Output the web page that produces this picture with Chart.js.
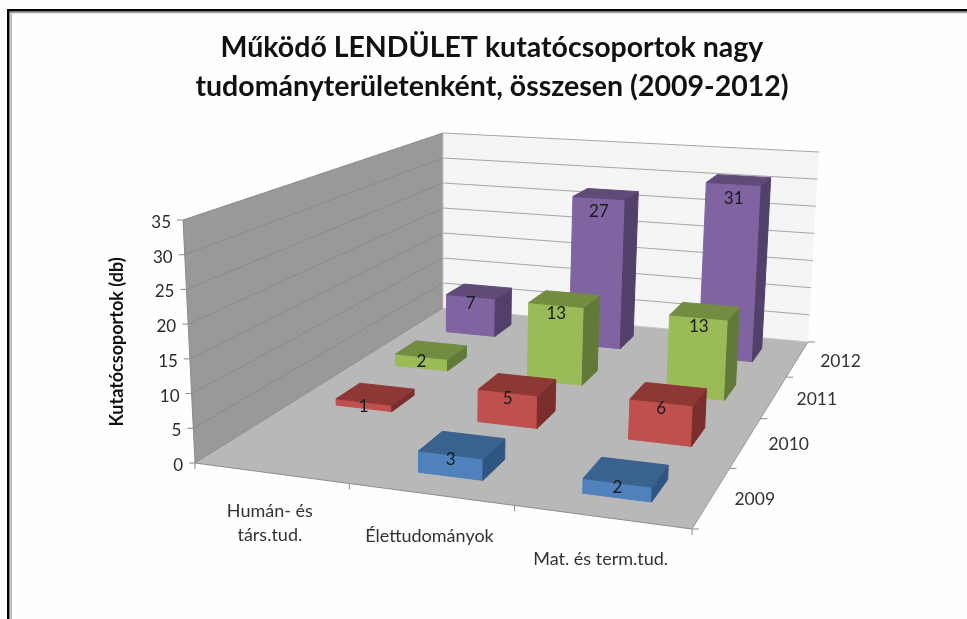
<!DOCTYPE html>
<html><head><meta charset="utf-8">
<style>html,body{margin:0;padding:0;background:#fff}#w{width:967px;height:619px}</style>
<script src="https://cdn.jsdelivr.net/npm/chart.js@4"></script>
</head><body><div id="w"><canvas id="c" width="967" height="619"></canvas></div>
<script>
// ---- data ----
const categories = [['Humán- és','társ.tud.'],['Élettudományok'],['Mat. és term.tud.']];
const years = ['2009','2010','2011','2012'];
const values2009 = [null,3,2];
const values2010 = [1,5,6];
const values2011 = [2,13,13];
const values2012 = [7,27,31];
const yTicksMax = 35, yTickStep = 5;
const yTitle = 'Kutatócsoportok (db)';
const titleLines = ['Működő LENDÜLET kutatócsoportok nagy','tudományterületenként, összesen (2009-2012)'];

// ---- 3D box on screen (front-left, front-right, back-right, back-left) ----
const FLOOR = [[195,463],[692,529],[808,342],[443,308]];
const CEIL  = [[183,220],[703,256],[819,152],[443,133]];
const BAR_W = 0.40, BAR_D = 0.38;
const FONT = 'Lato, "Open Sans", sans-serif';

function homography(q){
  const [[x0,y0],[x1,y1],[x2,y2],[x3,y3]] = q;
  const dx1=x1-x2,dx2=x3-x2,dy1=y1-y2,dy2=y3-y2,sx=x0-x1+x2-x3,sy=y0-y1+y2-y3;
  const den=dx1*dy2-dx2*dy1, g=(sx*dy2-dx2*sy)/den, h=(dx1*sy-sx*dy1)/den;
  const a=x1-x0+g*x1,b=x3-x0+h*x3,d=y1-y0+g*y1,e=y3-y0+h*y3;
  return (u,v)=>{const w=g*u+h*v+1;return [(a*u+b*v+x0)/w,(d*u+e*v+y0)/w];};
}
const floorH = homography(FLOOR), ceilH = homography(CEIL);
// u, v: 0..1 along category / depth; f: 0..1 of height
function P(u,v,f){const a=floorH(u,v),b=ceilH(u,v);return [a[0]+(b[0]-a[0])*f,a[1]+(b[1]-a[1])*f];}
function poly(ctx,pts,fill,stroke){
  ctx.beginPath();pts.forEach((p,i)=>i?ctx.lineTo(p[0],p[1]):ctx.moveTo(p[0],p[1]));ctx.closePath();
  if(fill){ctx.fillStyle=fill;ctx.fill();}
  if(stroke){ctx.strokeStyle=stroke;ctx.lineWidth=1;ctx.stroke();}
}
function seg(ctx,a,b,color,w){ctx.beginPath();ctx.moveTo(a[0],a[1]);ctx.lineTo(b[0],b[1]);ctx.strokeStyle=color;ctx.lineWidth=w||1;ctx.stroke();}
const nX=(s,val)=>(s.getPixelForValue(val)-s.left)/s.width;
const nY=(s,val)=>(s.bottom-s.getPixelForValue(val))/s.height;

class Bar3D extends Chart.BarController{
  draw(){
    const chart=this.chart,ctx=chart.ctx,ds=this.getDataset(),meta=this.getMeta();
    const sx=chart.scales.x,sy=chart.scales.y,sz=chart.scales.z;
    const hw=BAR_W*(nX(sx,1)-nX(sx,0))/2, hd=BAR_D*(nX(sz,1)-nX(sz,0))/2;
    const v=nX(sz,ds.depthIndex);
    meta.data.forEach((el,i)=>{
      const val=this.getParsed(i).y;
      if(val==null||isNaN(val))return;
      const u=nX(sx,i),f=nY(sy,val);
      const u0=u-hw,u1=u+hw,v0=v-hd,v1=v+hd;
      ctx.save();
      poly(ctx,[P(u0,v0,0),P(u1,v0,0),P(u1,v0,f),P(u0,v0,f)],ds.faceColor,ds.faceColor);
      poly(ctx,[P(u1,v0,0),P(u1,v1,0),P(u1,v1,f),P(u1,v0,f)],ds.sideColor,ds.sideColor);
      poly(ctx,[P(u0,v0,f),P(u1,v0,f),P(u1,v1,f),P(u0,v1,f)],ds.topColor,ds.topColor);
      const t=P(u,v0,f);
      ctx.fillStyle='#1a1a1a';ctx.font='17px '+FONT;ctx.textAlign='center';ctx.textBaseline='middle';
      ctx.fillText(String(val),t[0],t[1]+4+val*0.35);
      ctx.restore();
    });
  }
}
Bar3D.id='bar3d';
Chart.register(Bar3D);

const scene={
  id:'scene',
  beforeDraw(chart){
    const ctx=chart.ctx;
    ctx.save();
    ctx.fillStyle='#fefefe';ctx.fillRect(0,0,967,619);
    // picture frame
    ctx.fillStyle='#000';ctx.fillRect(7,9,960,2.5);ctx.fillRect(7,9,2.5,610);
    ctx.fillStyle='#9a9a9a';ctx.fillRect(10.5,12,957,1.2);ctx.fillRect(10.5,12,1.2,607);
    ctx.restore();
  },
  beforeDatasetsDraw(chart){
    const ctx=chart.ctx,sx=chart.scales.x,sy=chart.scales.y,sz=chart.scales.z;
    ctx.save();
    // walls and floor
    poly(ctx,[P(0,0,0),P(0,1,0),P(0,1,1),P(0,0,1)],'#999999');
    poly(ctx,[P(0,1,0),P(1,1,0),P(1,1,1),P(0,1,1)],'#f5f5f5');
    poly(ctx,[P(0,0,0),P(1,0,0),P(1,1,0),P(0,1,0)],'#b8b8b8');
    // value grid lines, ticks and labels
    ctx.font='17px '+FONT;ctx.fillStyle='#2a2a2a';ctx.textBaseline='middle';ctx.textAlign='right';
    sy.ticks.forEach(t=>{
      const f=nY(sy,t.value),a=P(0,0,f),b=P(0,1,f),c=P(1,1,f);
      if(t.value>0){seg(ctx,a,b,'#8a8a8a');seg(ctx,b,c,'#a6a6a6');}
      seg(ctx,[a[0]-6,a[1]],a,'#8c8c8c');
      ctx.fillText(String(t.value),a[0]-12,a[1]+2.5);
    });
    // floor edges and wall edges
    seg(ctx,P(0,0,0),P(1,0,0),'#8c8c8c');
    seg(ctx,P(1,0,0),P(1,1,0),'#9c9c9c');
    seg(ctx,P(0,0,0),P(0,1,0),'#8c8c8c');
    seg(ctx,P(0,1,0),P(1,1,0),'#c8c8c8');
    seg(ctx,P(0,0,0),P(0,0,1),'#8c8c8c');
    seg(ctx,P(0,1,0),P(0,1,1),'#c4c4c4');
    // category ticks + labels
    ctx.textAlign='center';ctx.fillStyle='#333';ctx.font='18px '+FONT;
    const cw=nX(sx,1)-nX(sx,0);
    for(let i=0;i<=categories.length;i++){
      const p=P(nX(sx,0)-cw/2+i*cw,0,0);seg(ctx,p,[p[0],p[1]+6],'#8c8c8c');
    }
    categories.forEach((lines,i)=>{
      const p=P(nX(sx,i),0,0),lh=23.5;
      const cy=p[1]+42+(lines.length-1)*8;
      lines.forEach((s,k)=>ctx.fillText(s,p[0]-1,cy+(k-(lines.length-1)/2)*lh));
    });
    // depth ticks + labels
    const dw=nX(sz,1)-nX(sz,0);
    for(let i=0;i<=years.length;i++){
      const p=P(1,nX(sz,0)-dw/2+i*dw,0);seg(ctx,p,[p[0]+7,p[1]],'#8c8c8c');
    }
    ctx.font='17.5px '+FONT;
    years.forEach((y,i)=>{
      const p=P(1,nX(sz,i),0);
      ctx.fillText(y,p[0]+43,p[1]+2);
    });
    // value axis title
    ctx.translate(117,342);ctx.rotate(-Math.PI/2);
    ctx.font='bold 18px '+FONT;ctx.fillStyle='#111';ctx.textAlign='center';
    ctx.fillText(yTitle,0,0);
    ctx.restore();
  }
};

const series=[
  {label:'2009',data:values2009,depthIndex:0,faceColor:'#4f81bd',topColor:'#3a628f',sideColor:'#2f5582'},
  {label:'2010',data:values2010,depthIndex:1,faceColor:'#c0504d',topColor:'#8e3835',sideColor:'#7a2f2d'},
  {label:'2011',data:values2011,depthIndex:2,faceColor:'#9bbb59',topColor:'#748c42',sideColor:'#627a38'},
  {label:'2012',data:values2012,depthIndex:3,faceColor:'#8064a2',topColor:'#5f4a78',sideColor:'#52406a'}
].map(d=>Object.assign(d,{clip:false}));

new Chart(document.getElementById('c'),{
  type:'bar3d',
  data:{labels:categories.map(c=>c.join(' ')),datasets:series},
  plugins:[scene],
  options:{
    responsive:false,animation:false,
    layout:{padding:{left:17,right:0,top:0,bottom:0}},
    events:[],
    plugins:{
      legend:{display:false},tooltip:{enabled:false},
      title:{display:true,text:titleLines,color:'#111',
        font:{family:'Lato',weight:'bold',size:28.5,lineHeight:1.38},
        padding:{top:28,bottom:10}}
    },
    scales:{
      x:{type:'category',display:false,offset:true,grid:{offset:true}},
      z:{type:'category',axis:'x',position:'bottom',display:false,offset:true,labels:years},
      y:{type:'linear',display:false,min:0,max:yTicksMax,ticks:{stepSize:yTickStep}}
    }
  }
});
</script></body></html>
